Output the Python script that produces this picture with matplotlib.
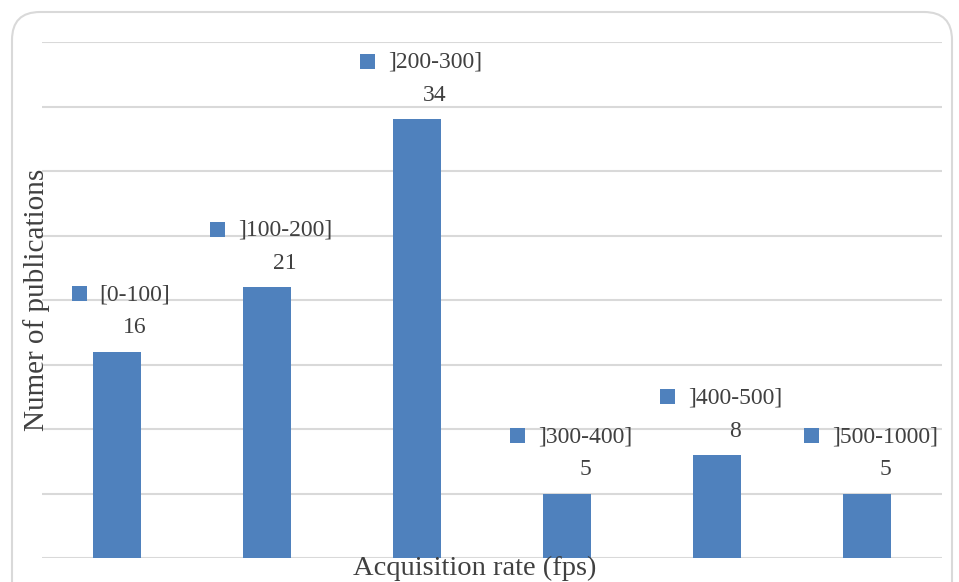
import matplotlib.pyplot as plt
from matplotlib.patches import FancyBboxPatch, Rectangle

# data
categories = ['[0-100]', ']100-200]', ']200-300]', ']300-400]', ']400-500]', ']500-1000]']
counts = [16, 21, 34, 5, 8, 5]

bar_color = '#4f81bd'
grid_color = '#d9d9d9'
text_color = '#404040'
plt.rcParams['font.family'] = ['Liberation Serif', 'DejaVu Serif']

fig = plt.figure(figsize=(9.59, 5.82), dpi=100)
ax = fig.add_axes([42 / 959, 1 - 558 / 582, 900 / 959, 516 / 582])

# rounded frame around the chart (runs past the bottom edge), in inches
frame = FancyBboxPatch((0.12, -1.0), 9.40, 6.70,
                       boxstyle='round,pad=0,rounding_size=0.28',
                       transform=fig.dpi_scale_trans, fill=False,
                       edgecolor=grid_color, linewidth=1.5)
fig.add_artist(frame)

x = range(len(categories))
ax.bar(x, counts, width=0.32, color=bar_color, zorder=3)
ax.set_xlim(-0.5, len(categories) - 0.5)
ax.set_ylim(0, 40)
ax.set_yticks(range(0, 41, 5))
ax.grid(axis='y', color=grid_color, linewidth=1.5, zorder=0)
ax.tick_params(left=False, bottom=False, labelleft=False, labelbottom=False)
for s in ax.spines.values():
    s.set_visible(False)

ax.set_ylabel('Numer of publications', fontsize=21, color=text_color, labelpad=-6)
# x label sits right under the baseline, drawn on top of the frame/grid
fig.text(475 / 959, 1 / 582, 'Acquisition rate (fps)', fontsize=20.5,
         color=text_color, ha='center', va='bottom', zorder=10)

cat_texts = []
for i, (c, v) in enumerate(zip(categories, counts)):
    ax.annotate(str(v), xy=(i, v), xytext=(13, 17), textcoords='offset points',
                ha='center', va='center', fontsize=17, color=text_color)
    t = ax.annotate(c, xy=(i, v), xytext=(13, 41), textcoords='offset points',
                    ha='center', va='center', fontsize=17, color=text_color)
    cat_texts.append(t)

# legend-key squares in front of the category labels
fig.canvas.draw()
r = fig.canvas.get_renderer()
inv = fig.transFigure.inverted()
for t in cat_texts:
    bb = t.get_window_extent(r)
    cy = (bb.y0 + bb.y1) / 2 + 1
    x1, y1 = inv.transform((bb.x0 - 28, cy - 7.5))
    x2, y2 = inv.transform((bb.x0 - 13, cy + 7.5))
    fig.add_artist(Rectangle((x1, y1), x2 - x1, y2 - y1, transform=fig.transFigure,
                             color=bar_color, linewidth=0))

fig.savefig('out.png', dpi=100)
